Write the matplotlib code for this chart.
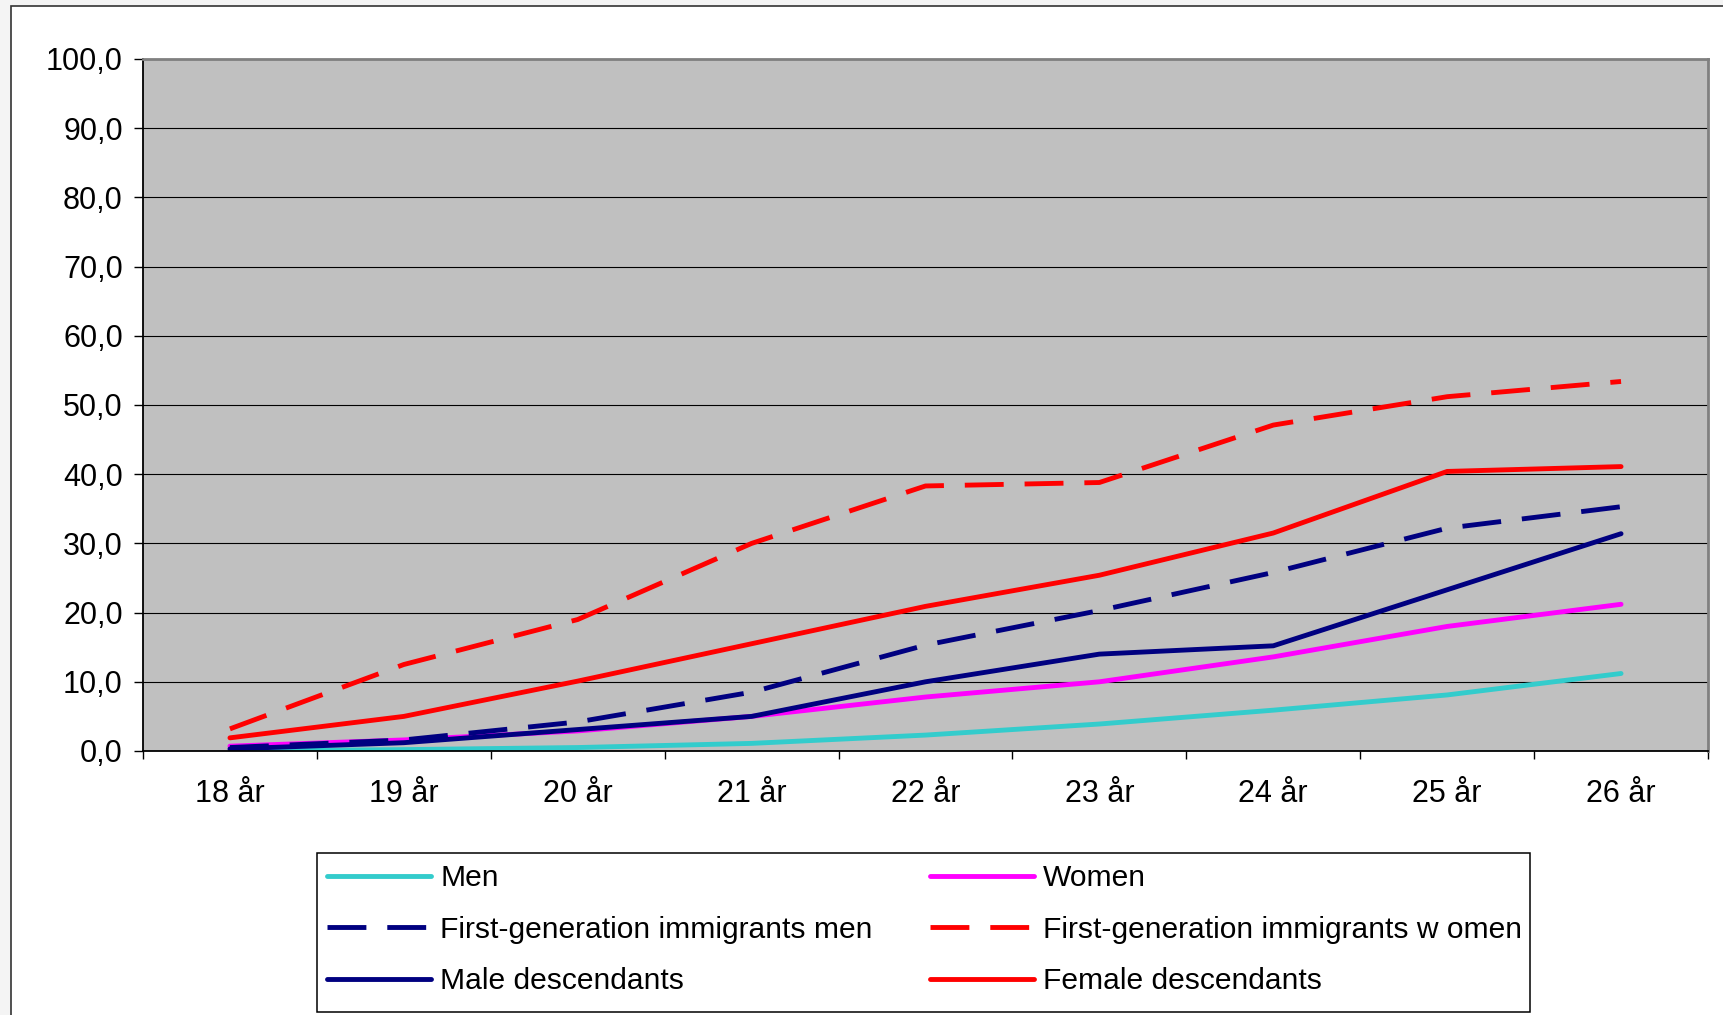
import matplotlib
matplotlib.use("Agg")
import matplotlib.pyplot as plt
from matplotlib.patches import Rectangle
from matplotlib.ticker import FixedLocator, FuncFormatter

plt.rcParams['font.family'] = ['Liberation Sans', 'DejaVu Sans']

# data (share in %)
ages = ["18 år", "19 år", "20 år", "21 år", "22 år", "23 år", "24 år", "25 år", "26 år"]
men = [0.0, 0.2, 0.5, 1.1, 2.3, 3.9, 5.9, 8.1, 11.2]
women = [0.7, 1.6, 2.9, 5.0, 7.8, 10.0, 13.6, 18.0, 21.2]
first_gen_men = [0.5, 1.6, 4.2, 8.5, 15.3, 20.3, 25.8, 32.2, 35.3]
first_gen_women = [3.2, 12.5, 19.0, 30.0, 38.3, 38.8, 47.1, 51.2, 53.4]
male_desc = [0.3, 1.2, 3.1, 5.0, 10.0, 14.0, 15.2, 23.3, 31.4]
female_desc = [1.9, 5.0, 10.1, 15.5, 20.9, 25.4, 31.5, 40.4, 41.1]

W, H = 1724, 1015
fs = 22
fs_leg = 21.6
fig = plt.figure(figsize=(W / 100, H / 100), dpi=100)
fig.patch.set_facecolor('#f4f4f4')

# white chart area with thin dark frame (Excel chart area)
fig.patches.append(Rectangle((11 / W, -0.02), 1.1, 1 - 6 / H + 0.02, transform=fig.transFigure,
                             facecolor='white', edgecolor='#333333', linewidth=1.2, zorder=-10))

ax = fig.add_axes([143 / W, 1 - 751 / H, (1708 - 143) / W, (751 - 59) / H])
ax.set_facecolor('#C0C0C0')

x = list(range(len(ages)))
lw = 3.5
dash = (0, (8, 4.3))
ax.plot(x, men, color='#33CCCC', lw=lw, solid_capstyle='round', label='Men')
ax.plot(x, women, color='#FF00FF', lw=lw, solid_capstyle='round', label='Women')
ax.plot(x, first_gen_men, color='#000080', lw=lw, linestyle=dash, dash_capstyle='butt',
        label='First-generation immigrants men')
ax.plot(x, first_gen_women, color='#FF0000', lw=lw, linestyle=dash, dash_capstyle='butt',
        label='First-generation immigrants w omen')
ax.plot(x, male_desc, color='#000080', lw=lw, solid_capstyle='round', label='Male descendants')
ax.plot(x, female_desc, color='#FF0000', lw=lw, solid_capstyle='round', label='Female descendants')

ax.set_xlim(-0.5, len(ages) - 0.5)
ax.set_ylim(0, 100)

# y axis
ax.set_yticks(range(0, 101, 10))
ax.yaxis.set_major_formatter(FuncFormatter(lambda v, p: f"{v:.1f}".replace('.', ',')))
ax.tick_params(axis='y', length=6.5, width=1, pad=8.0, labelsize=fs, colors='black')
ax.grid(axis='y', color='black', linewidth=0.8)
ax.set_axisbelow(True)

# x axis: tick marks between categories, labels centred
ax.xaxis.set_major_locator(FixedLocator([i - 0.5 for i in range(len(ages) + 1)]))
ax.xaxis.set_major_formatter(FuncFormatter(lambda v, p: ''))
ax.xaxis.set_minor_locator(FixedLocator(x))
ax.set_xticklabels(ages, minor=True)
ax.tick_params(axis='x', which='major', length=5.5, width=1)
ax.tick_params(axis='x', which='minor', length=0, pad=20, labelsize=fs)

for side in ['left', 'bottom']:
    ax.spines[side].set_color('black')
    ax.spines[side].set_linewidth(1.3)
for side in ['top', 'right']:
    ax.spines[side].set_color('#808080')
    ax.spines[side].set_linewidth(2)

# legend box drawn separately so the columns can be placed freely
fig.patches.append(Rectangle((317 / W, 1 - 1012 / H), (1530 - 317) / W, (1012 - 853) / H,
                             transform=fig.transFigure, facecolor='white',
                             edgecolor='black', linewidth=1.1, zorder=-5))

# legend, filled column-wise
h, l = ax.get_legend_handles_labels()
order = [0, 2, 4, 1, 3, 5]
leg = fig.legend([h[i] for i in order], [l[i] for i in order], ncol=2,
                 loc='upper left', bbox_to_anchor=(327 / W, 1 - 864 / H),
                 borderaxespad=0, borderpad=0, fontsize=fs_leg, frameon=False,
                 handlelength=3.47, handletextpad=0.3,
                 labelspacing=0.79, columnspacing=1.92)

fig.savefig('out.png', dpi=100, facecolor=fig.get_facecolor())
